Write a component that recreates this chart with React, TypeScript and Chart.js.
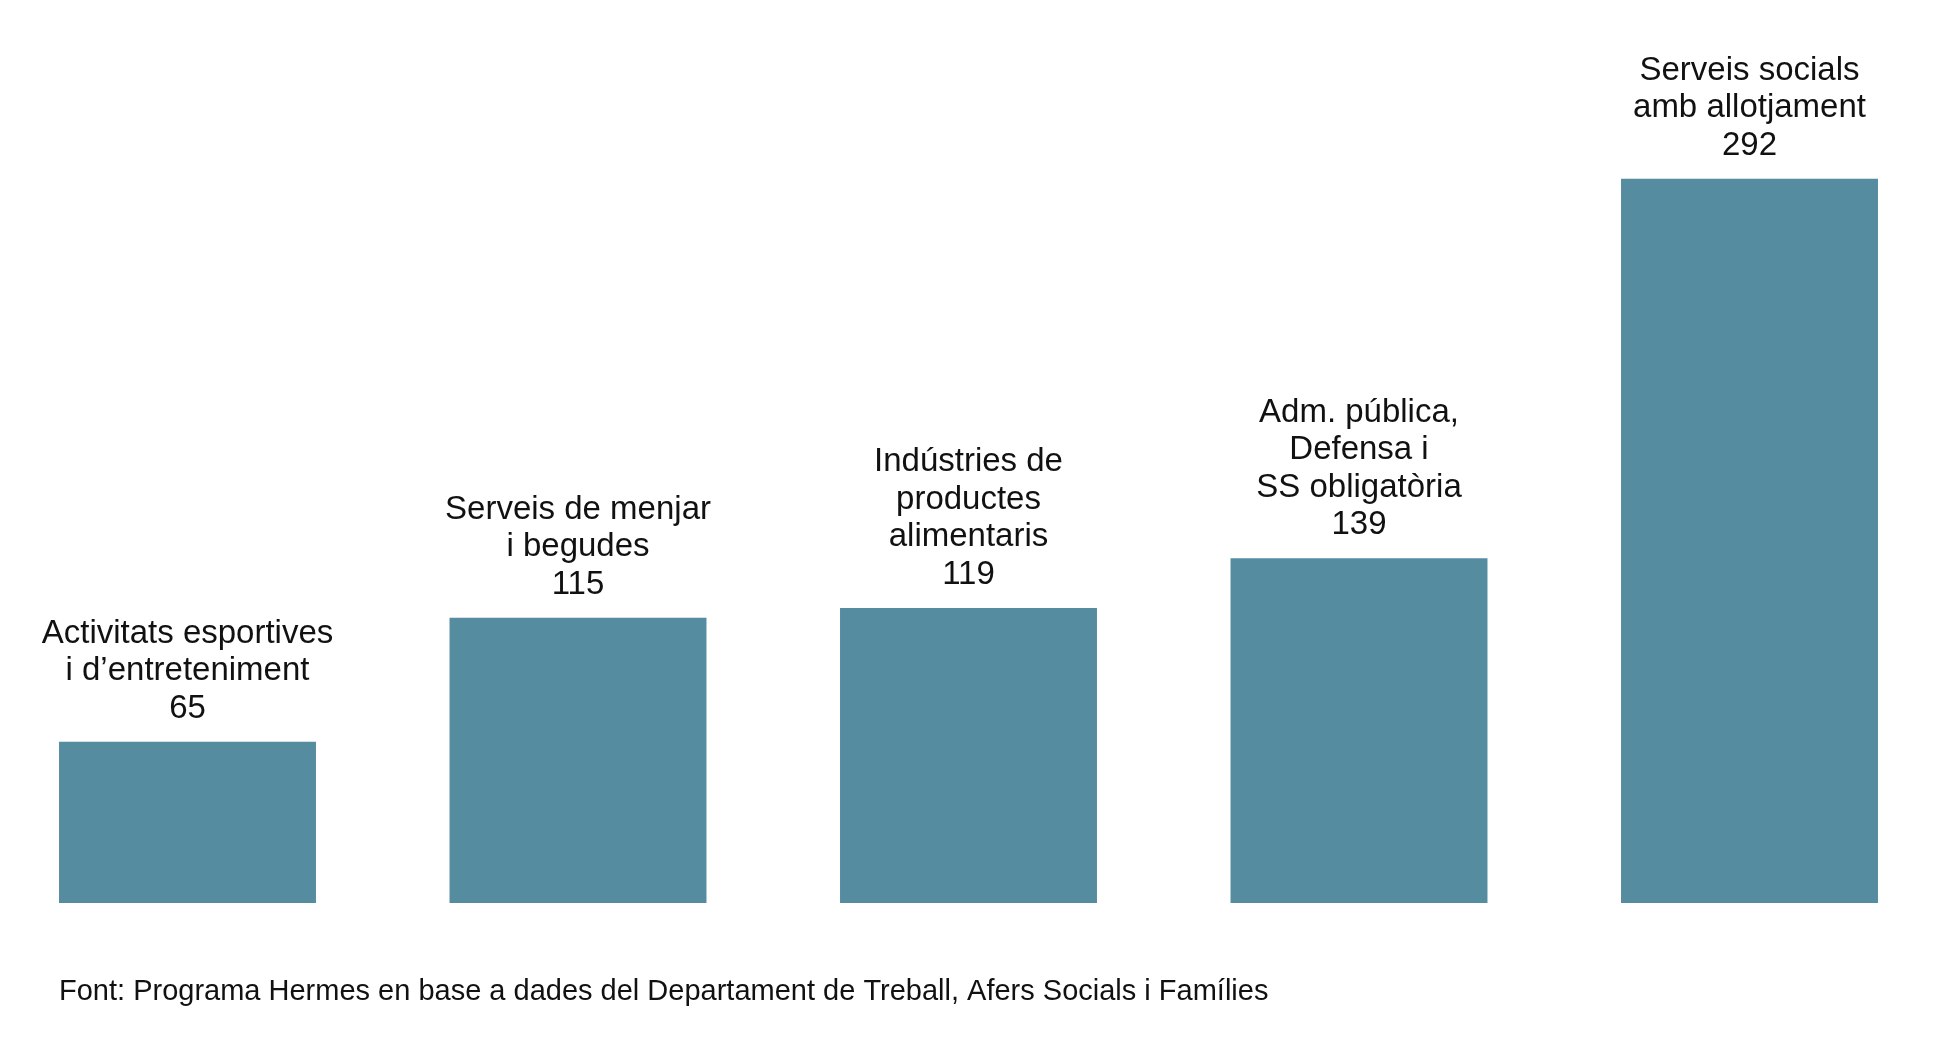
import React, { useEffect, useRef } from "react";
import { Chart, registerables, Plugin } from "chart.js";

Chart.register(...registerables);

// category names, split the way the reference wraps them
const categories: string[][] = [
  ["Activitats esportives", "i d’entreteniment"],
  ["Serveis de menjar", "i begudes"],
  ["Indústries de", "productes", "alimentaris"],
  ["Adm. pública,", "Defensa i", "SS obligatòria"],
  ["Serveis socials", "amb allotjament"],
];
const values: number[] = [65, 115, 119, 139, 292];
const source =
  "Font: Programa Hermes en base a dades del Departament de Treball, Afers Socials i Famílies";

const barColor = "#558ca0";
const textColor = "#111111";
const fontFamily = "'Liberation Sans', Arial, Helvetica, sans-serif";

const barLabels: Plugin<"bar"> = {
  id: "barLabels",
  afterDatasetsDraw(chart) {
    const ctx = chart.ctx;
    const meta = chart.getDatasetMeta(0);
    ctx.save();
    ctx.fillStyle = textColor;
    ctx.font = `33px ${fontFamily}`;
    ctx.textAlign = "center";
    ctx.textBaseline = "alphabetic";
    meta.data.forEach((bar, i) => {
      const lines = [...categories[i], String(values[i])];
      let y = bar.y - 24;
      for (let j = lines.length - 1; j >= 0; j--) {
        ctx.fillText(lines[j], bar.x, y);
        y -= 37.5;
      }
    });
    // source note under the bars
    ctx.font = `29px ${fontFamily}`;
    ctx.textAlign = "left";
    ctx.fillText(source, 79, 1000);
    ctx.restore();
  },
};

const App: React.FC = () => {
  const chartRef = useRef<HTMLCanvasElement | null>(null);

  useEffect(() => {
    if (!chartRef.current) return;
    const chart = new Chart(chartRef.current, {
      type: "bar",
      data: {
        labels: categories,
        datasets: [
          {
            data: values,
            backgroundColor: barColor,
            borderWidth: 0,
            barPercentage: 1,
            categoryPercentage: 0.658,
          },
        ],
      },
      options: {
        responsive: true,
        maintainAspectRatio: false,
        animation: false,
        layout: {
          padding: { left: 12.25, right: 15.25, top: 35, bottom: 160 },
        },
        plugins: {
          legend: { display: false },
          tooltip: { enabled: false },
        },
        scales: {
          x: { display: false },
          y: { display: false, min: 0, max: 350 },
        },
      },
      plugins: [barLabels],
    });

    return () => {
      chart.destroy();
    };
  }, []);

  return (
    <div
      style={{
        position: "fixed",
        left: 0,
        top: 0,
        width: "1937px",
        height: "1063px",
        overflow: "hidden",
        background: "#ffffff",
      }}
    >
      <div
        style={{
          position: "absolute",
          left: "-20px",
          top: 0,
          width: "1980px",
          height: "1063px",
        }}
      >
        <canvas ref={chartRef} />
      </div>
    </div>
  );
};

export default App;
